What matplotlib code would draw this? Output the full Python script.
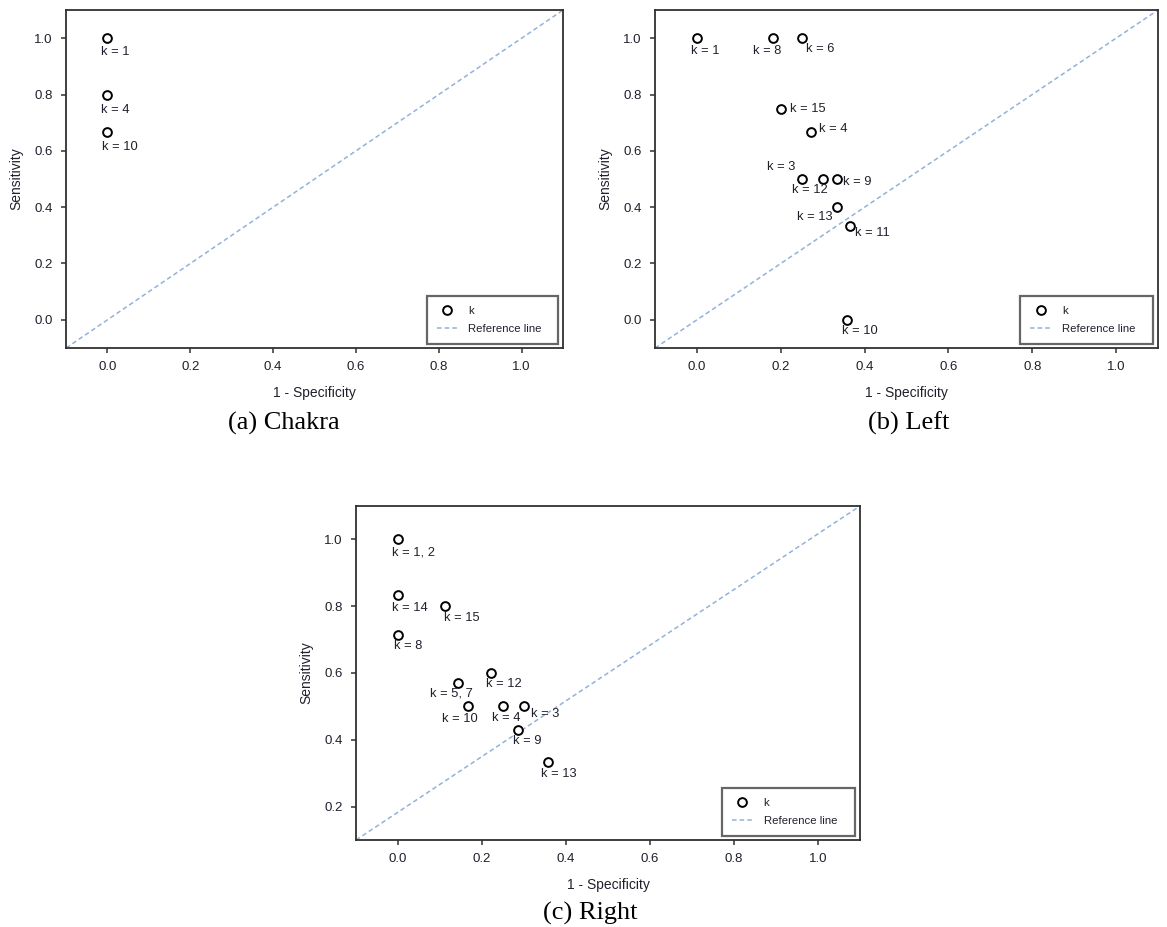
import matplotlib
matplotlib.use('Agg')
import matplotlib.pyplot as plt
from matplotlib.lines import Line2D

plt.rcParams['font.family'] = 'Liberation Sans'

# (a) Chakra
chakra_fpr = [0.0, 0.0, 0.0]
chakra_sens = [1.0, 0.8, 0.667]
chakra_k = ['k = 1', 'k = 4', 'k = 10']

# (b) Left
left_fpr = [0.0, 0.182, 0.25, 0.2, 0.273, 0.25, 0.30, 0.333, 0.333, 0.364, 0.357]
left_sens = [1.0, 1.0, 1.0, 0.75, 0.667, 0.5, 0.5, 0.5, 0.4, 0.333, 0.0]
left_k = ['k = 1', 'k = 8', 'k = 6', 'k = 15', 'k = 4', 'k = 3', 'k = 12',
          'k = 9', 'k = 13', 'k = 11', 'k = 10']

# (c) Right
right_fpr = [0.0, 0.0, 0.111, 0.0, 0.222, 0.143, 0.167, 0.25, 0.30, 0.286, 0.357]
right_sens = [1.0, 0.833, 0.8, 0.714, 0.6, 0.571, 0.5, 0.5, 0.5, 0.429, 0.333]
right_k = ['k = 1, 2', 'k = 14', 'k = 15', 'k = 8', 'k = 12', 'k = 5, 7',
           'k = 10', 'k = 4', 'k = 3', 'k = 9', 'k = 13']

# label offsets in pixels (left edge, vertical centre)
chakra_off = [(-6, -14), (-6, -15), (-5, -15)]
left_off = [(-6, -13), (-20, -13), (4, -11), (9, 0), (8, 3), (-35, 12),
            (-31, -11), (6, -3), (-40, -10), (5, -7), (-5, -11)]
right_off = [(-6, -13), (-6, -13), (-1, -12), (-4, -11), (-5, -11), (-28, -11),
             (-26, -13), (-11, -12), (7, -8), (-5, -11), (-7, -12)]

txt_col = '#20202c'
ref_col = '#92b2da'

fig = plt.figure(figsize=(11.67, 9.27), dpi=100)


def draw_panel(rect, fpr, sens, labels, offsets, ylim, yticks):
    ax = fig.add_axes(rect)
    ax.set_xlim(-0.1, 1.1)
    ax.set_ylim(*ylim)
    ax.set_xticks([0, 0.2, 0.4, 0.6, 0.8, 1.0])
    ax.set_yticks(yticks)
    ax.xaxis.set_major_formatter(matplotlib.ticker.FormatStrFormatter('%.1f'))
    ax.yaxis.set_major_formatter(matplotlib.ticker.FormatStrFormatter('%.1f'))
    for s in ax.spines.values():
        s.set_linewidth(1.3)
        s.set_color('#303030')
    ax.tick_params(direction='out', length=3.5, width=1.1, color='#303030',
                   pad=6, labelsize=9.5, labelcolor=txt_col)

    # reference line corner to corner
    ax.plot([0, 1], [0, 1], transform=ax.transAxes, color=ref_col,
            lw=1.1, ls=(0, (3, 2)), zorder=1)
    ax.plot(fpr, sens, ls='none', marker='o', ms=6.3, mfc='white', mec='black',
            mew=1.4, zorder=3)
    for x, y, lab, (dx, dy) in zip(fpr, sens, labels, offsets):
        ax.annotate(lab, (x, y), xytext=(dx, dy), textcoords='offset pixels',
                    ha='left', va='center', fontsize=9.3, color=txt_col, zorder=4)

    ax.set_xlabel('1 - Specificity', fontsize=10, color=txt_col, labelpad=9)
    ax.set_ylabel('Sensitivity', fontsize=10, color=txt_col, labelpad=8)

    handles = [Line2D([], [], ls='none', marker='o', ms=6.3, mfc='white',
                      mec='black', mew=1.4),
               Line2D([], [], color=ref_col, lw=1.1, ls=(0, (3, 2)))]
    leg = ax.legend(handles, ['k', 'Reference line'], loc='lower left',
                    bbox_to_anchor=(0.726, 0.013, 0.264, 0.13), mode='expand',
                    fontsize=8.2, frameon=True, fancybox=False,
                    borderpad=0.85, labelspacing=0.7, handlelength=1.9,
                    handletextpad=0.9, borderaxespad=0)
    leg.get_frame().set_edgecolor('#404040')
    leg.get_frame().set_linewidth(1.6)
    for t in leg.get_texts():
        t.set_color(txt_col)
    return ax


draw_panel([0.0566, 0.6246, 0.4259, 0.3646], chakra_fpr, chakra_sens, chakra_k,
           chakra_off, (-0.1, 1.1), [0, 0.2, 0.4, 0.6, 0.8, 1.0])
draw_panel([0.5613, 0.6246, 0.4310, 0.3646], left_fpr, left_sens, left_k,
           left_off, (-0.1, 1.1), [0, 0.2, 0.4, 0.6, 0.8, 1.0])
draw_panel([0.3051, 0.0939, 0.4319, 0.3603], right_fpr, right_sens, right_k,
           right_off, (0.1, 1.1), [0.2, 0.4, 0.6, 0.8, 1.0])

cap = dict(ha='center', va='baseline', fontsize=19, family='Liberation Serif',
           color='black')
fig.text(284 / 1167, 1 - 430 / 927, '(a) Chakra', **cap)
fig.text(909 / 1167, 1 - 430 / 927, '(b) Left', **cap)
fig.text(590 / 1167, 1 - 920 / 927, '(c) Right', **cap)

fig.savefig('out.png', dpi=100)
